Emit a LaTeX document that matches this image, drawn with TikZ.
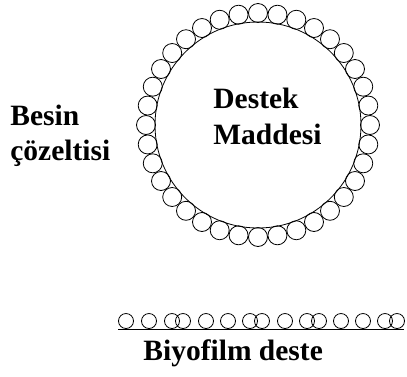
\documentclass[tikz,border=0pt]{standalone}
\usepackage{fontspec}
\setmainfont{Liberation Serif}
\usetikzlibrary{positioning}

\begin{document}
\begin{tikzpicture}[
    x=1pt, y=-1pt, line width=0.8pt,
    cell/.style={circle, draw=black, minimum size=19pt, inner sep=0pt},
    flat/.style={circle, draw=black, minimum size=15pt, inner sep=0pt},
    txt/.style={font=\fontsize{29.5}{35}\selectfont\bfseries, inner sep=0pt, anchor=base west}
]
\useasboundingbox (0,0) rectangle (407,376);

% support particle with attached cells
\node [circle, draw=black, minimum size=206pt, inner sep=0pt] (support) at (258,125) {};
\foreach \a [count=\i] in {0,10,...,350}
    \node [cell] (c\i) at ([shift={(\a:112pt)}]support.center) {};

\node [txt] (destek) at (213,108) {Destek};
\node [txt] (maddesi) at ([yshift=-36pt]destek.base west) {Maddesi};

\node [txt] (besin) at (10,125) {Besin};
\node [txt] (cozelti) at ([yshift=-35pt]besin.base west) {çözeltisi};

% flat biofilm support
\coordinate (ls) at (118,329);
\coordinate (le) at (404,329);
\draw (ls) -- (le);
\foreach \x in {126,149,172,183,206,228,250,262,285,307,319,341,363,385,397}
    \node [flat] (b\x) at (\x,321) {};

\node [txt] (biyo) at (143,360) {Biyofilm deste};

\end{tikzpicture}
\end{document}
